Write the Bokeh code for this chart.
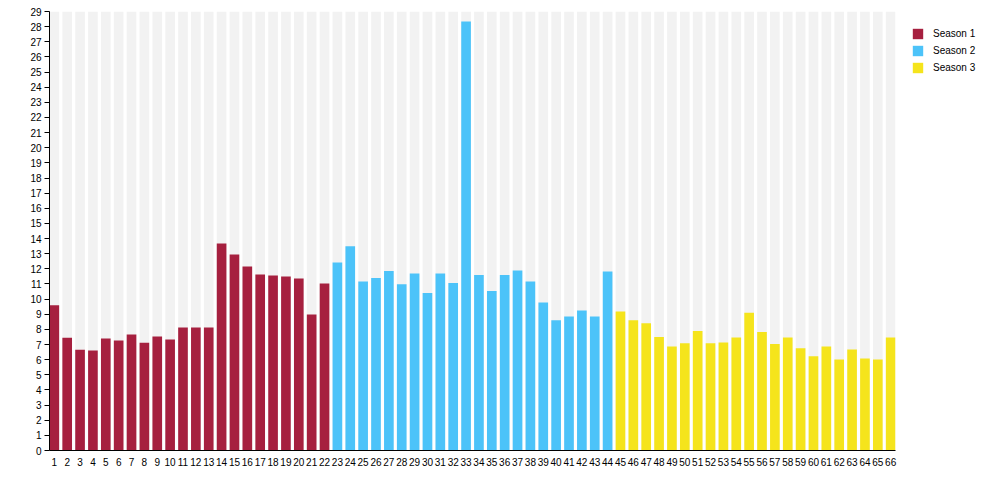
from bokeh.plotting import figure
from bokeh.models import Range1d, FixedTicker, Legend, LegendItem, ColumnDataSource
from bokeh.embed import file_html
from bokeh.resources import INLINE

season_names = ["Season 1", "Season 2", "Season 3"]
season_colors = ["#a6203f", "#4cc3f9", "#f5e41c"]
season1 = [9.6, 7.45, 6.65, 6.6, 7.4, 7.27, 7.67, 7.11, 7.53, 7.33, 8.13, 8.13, 8.13,
           13.68, 12.95, 12.16, 11.63, 11.56, 11.5, 11.37, 8.99, 11.04]
season2 = [12.42, 13.5, 11.17, 11.39, 11.85, 10.99, 11.7, 10.4, 11.7, 11.06, 28.34,
           11.59, 10.53, 11.59, 11.89, 11.17, 9.78, 8.6, 8.85, 9.25, 8.85, 11.83]
season3 = [9.18, 8.61, 8.41, 7.49, 6.87, 7.09, 7.89, 7.09, 7.14, 7.47, 9.1, 7.82,
           7.03, 7.47, 6.76, 6.23, 6.87, 6.01, 6.67, 6.08, 6.01, 7.47]
seasons = [season1, season2, season3]
y_max = 29
y_ticks = list(range(0, 30))

n_total = sum(len(s) for s in seasons)
episodes = list(range(1, n_total + 1))
bar_w = 0.75

FONT = "Liberation Sans"

p = figure(frame_width=846, frame_height=439, output_backend="svg", toolbar_location=None,
           x_range=Range1d(1 - bar_w / 2, n_total + bar_w / 2), y_range=Range1d(0, y_max),
           min_border_left=49, min_border_right=0, min_border_top=11, min_border_bottom=28)
p.outline_line_color = None
p.grid.visible = False
p.background_fill_color = "white"

# background bars
p.vbar(x=episodes, top=[y_max] * n_total, width=bar_w, fill_color="#f2f2f2",
       line_color=None)

items = []
start = 1
for name, color, vals in zip(season_names, season_colors, seasons):
    xs = list(range(start, start + len(vals)))
    src = ColumnDataSource(dict(x=xs, top=vals))
    r = p.vbar(x="x", top="top", width=bar_w, source=src, fill_color=color,
               line_color=None)
    items.append(LegendItem(label=name, renderers=[r]))
    start += len(vals)

# axes
p.yaxis.ticker = FixedTicker(ticks=y_ticks)
p.yaxis.major_tick_out = 5
p.yaxis.major_tick_in = 0
p.yaxis.minor_tick_line_color = None
p.yaxis.major_label_standoff = 3
p.xaxis.ticker = FixedTicker(ticks=episodes)
p.xaxis.minor_tick_line_color = None
p.xaxis.major_label_standoff = 1
for ax in (p.xaxis, p.yaxis):
    ax.axis_line_color = "black"
    ax.major_label_text_font = FONT
    ax.major_label_text_font_size = "10px"
    ax.major_label_text_color = "black"
p.yaxis.major_tick_line_color = "black"
p.xaxis.major_tick_line_color = None

legend = Legend(items=items, location="top_left", orientation="vertical",
                glyph_width=13, glyph_height=13, label_height=13, spacing=4,
                padding=0, margin=16, label_standoff=9,
                label_text_font=FONT, label_text_font_size="10px",
                label_text_color="black", border_line_color=None,
                background_fill_alpha=0)
p.add_layout(legend, "right")

open("out.html", "w").write(file_html(p, INLINE))
